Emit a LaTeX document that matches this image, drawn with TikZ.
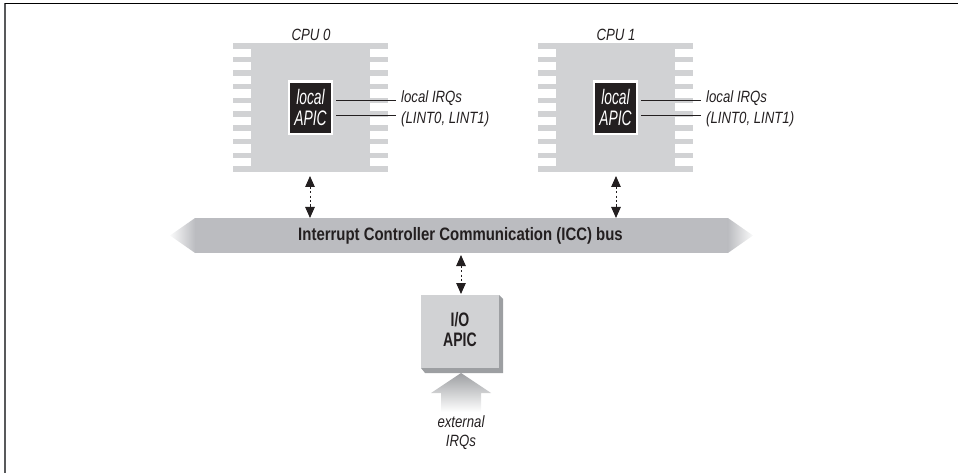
\documentclass[tikz,border=0pt]{standalone}
\usepackage{fontspec}
\usetikzlibrary{arrows.meta,fadings}
\setmainfont{Liberation Sans}
\newfontfamily\condit[FakeStretch=0.81]{Liberation Sans}
\newfontfamily\condap[FakeStretch=0.66]{Liberation Sans}
\newfontfamily\condbf[FakeStretch=0.83]{Liberation Sans}
\newfontfamily\condio[FakeStretch=0.72]{Liberation Sans}
\definecolor{chipgray}{HTML}{D1D2D4}
\definecolor{busgray}{HTML}{BBBCC0}
\definecolor{ioshade}{HTML}{9D9FA2}
\definecolor{inkc}{HTML}{231F20}
\definecolor{leftrule}{HTML}{58595B}
\tikzset{x=1pt,y=-1pt,
  lbl/.style={font=\condit\itshape\fontsize{16.3}{19.5}\selectfont,text=inkc,inner sep=0,align=center},
  lblleft/.style={font=\condit\itshape\fontsize{16.3}{19.5}\selectfont,text=inkc,inner sep=0,anchor=base west},
  apictext/.style={font=\condap\itshape\fontsize{21}{20.7}\selectfont,text=white,align=center,inner sep=0},
  boldtext/.style={font=\condbf\bfseries\fontsize{18}{20}\selectfont,text=inkc,align=center,inner sep=0},
  iotext/.style={font=\condio\bfseries\fontsize{19.5}{20}\selectfont,text=inkc,align=center,inner sep=0},
  wire/.style={draw=inkc,line width=1pt},
  dblarrow/.style={draw=inkc,line width=1pt,dash pattern=on 2.2pt off 2.2pt,{Triangle[length=11pt,width=9.5pt]}-{Triangle[length=11pt,width=9.5pt]}},
  framerule/.style={draw=black,line width=1.3pt},
}
\newcommand{\cpuchip}[2]{%
  \begin{scope}[shift={(#1,0)}]
    \fill[chipgray] (0,43) rectangle (155,49);
    \foreach \k in {1,...,8} {\fill[chipgray] (0,{43+\k*13.7}) rectangle (155,{43+\k*13.7+5.4});}
    \fill[chipgray] (0,166.5) rectangle (155,172.3);
    \fill[chipgray] (18,43) rectangle (137,172.3);
    \node[fill=white,minimum width=45.5pt,minimum height=55.5pt,inner sep=0] at (77.5,107.5) {};
    \node[fill=inkc,minimum width=40.5pt,minimum height=50pt,inner sep=0,apictext] (apic#2) at (77.5,107.7) {local\\APIC};
    \coordinate (la#2) at (103,100.7);
    \coordinate (lb#2) at (103,116);
    \coordinate (ra#2) at (162.7,100.7);
    \coordinate (rb#2) at (162.7,116);
    \draw[wire] (la#2) -- (ra#2);
    \draw[wire] (lb#2) -- (rb#2);
    \node[lbl] (cpulabel#2) at (78,34.5) {CPU #2};
    \node[lblleft] (irqa#2) at (168,103) {local IRQs};
    \node[lblleft] (irqb#2) at (168,123.5) {(LINT0, LINT1)};
  \end{scope}}
\begin{document}
\begin{tikzpicture}
\useasboundingbox (0,0) rectangle (958,473);
\coordinate (fbl) at (4.8,473);
\coordinate (ftl) at (4.8,3.5);
\coordinate (ftr) at (958,3.5);
\draw[leftrule,line width=1.6pt] (fbl) -- (ftl);
\draw[framerule] (ftl) -- (ftr);
\cpuchip{233}{0}
\cpuchip{538}{1}
% bus
\fill[busgray] (195,218) rectangle (728,253);
\begin{scope}
  \clip (195.1,218) -- (170,235.5) -- (195.1,253) -- cycle;
  \shade[left color=white,right color=busgray] (168,218) rectangle (195.1,253);
\end{scope}
\begin{scope}
  \clip (727.9,218) -- (753,235.5) -- (727.9,253) -- cycle;
  \shade[left color=busgray,right color=white] (727.9,218) rectangle (755,253);
\end{scope}
\node[boldtext] (bus) at (460.5,236) {Interrupt Controller Communication (ICC) bus};
% IO APIC
\fill[ioshade] (421,368) -- (425,373) -- (503,373) -- (503,299) -- (499,295) -- (499,368) -- cycle;
\node[fill=chipgray,minimum width=78pt,minimum height=73pt,inner sep=0] (io) at (460,331.5) {};
\node[iotext] (iolabel) at (io.center) [yshift=1.5pt] {I/O\\APIC};
% external arrow
\shade[top color=ioshade,bottom color=white]
    (461,373) -- (491,393) -- (481,393) -- (481,412) -- (441,412) -- (441,393) -- (431,393) -- cycle;
\node[lbl] (ext) at (461,432.5) {external\\IRQs};
% bidirectional arrows
\coordinate (a0t) at (310,176);
\coordinate (a0b) at (310,218);
\coordinate (a1t) at (616,176);
\coordinate (a1b) at (616,218);
\coordinate (a2t) at (461,255);
\coordinate (a2b) at (461,294);
\draw[dblarrow] (a0t) -- (a0b);
\draw[dblarrow] (a1t) -- (a1b);
\draw[dblarrow] (a2t) -- (a2b);
\end{tikzpicture}
\end{document}
